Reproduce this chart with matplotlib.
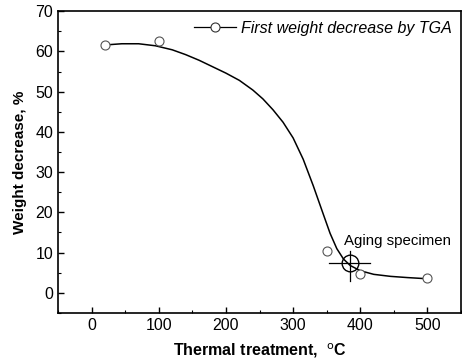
import matplotlib
matplotlib.use('Agg')
import matplotlib.pyplot as plt

# measured points (open circles)
temp = [20, 100, 350, 400, 500]
wdec = [61.5, 62.5, 10.5, 4.8, 3.6]

# fitted curve
fitT = [20, 45, 70, 95, 120, 140, 160, 180, 200, 220, 240, 255, 270, 285, 300, 315, 330, 345, 355,
        365, 375, 385, 400, 420, 445, 470, 500]
fitW = [61.6, 61.9, 61.9, 61.4, 60.4, 59.2, 57.8, 56.2, 54.6, 52.8, 50.4, 48.2, 45.5, 42.4, 38.5, 33.2,
        26.6, 19.5, 14.8, 11.0, 8.4, 6.8, 5.5, 4.6, 4.1, 3.8, 3.5]

# aging specimen marker
agingT = 384
agingW = 7.5

plt.rcParams['font.family'] = ['Liberation Sans', 'DejaVu Sans']

fig = plt.figure(figsize=(4.62, 3.6), dpi=100)
ax = fig.add_axes([0.1255, 0.1306, 0.8725, 0.8384])

ax.plot(fitT, fitW, color='black', lw=1.1, zorder=2)
ax.plot(temp, wdec, 'o', mfc='white', mec='#555555', ms=6.5, mew=0.8, zorder=3)
# legend entry (line + marker)
leg_line, = ax.plot([], [], '-o', color='black', lw=0.9, mfc='white', mec='#333333', ms=6.5, mew=0.8)
ax.legend([leg_line], ['First weight decrease by TGA'], loc='upper right', frameon=False,
          prop={'style': 'italic', 'size': 11.5}, handlelength=2.6, handletextpad=0.3,
          borderaxespad=0.2, bbox_to_anchor=(1.0, 1.0))

# aging specimen: circle with crosshair
ax.plot(agingT, agingW, 'o', mfc='none', mec='black', ms=12, mew=1.0, zorder=4)
ax.plot([354, 414], [agingW, agingW], color='black', lw=0.9, zorder=4)
ax.plot([agingT, agingT], [3.0, 10.4], color='black', lw=0.9, zorder=4)
ax.text(376, 12.8, 'Aging specimen', fontsize=10.8, va='center', ha='left')

ax.set_xlim(-50, 550)
ax.set_ylim(-5, 70)
ax.set_xticks([0, 100, 200, 300, 400, 500])
ax.set_xticks(range(-50, 551, 50), minor=True)
ax.set_yticks(range(0, 71, 10))
ax.set_yticks(range(-5, 71, 5), minor=True)
ax.tick_params(direction='in', which='major', length=4, width=1, labelsize=11.5)
ax.tick_params(direction='in', which='minor', length=2, width=0.8)
for s in ax.spines.values():
    s.set_linewidth(1.2)

ax.set_xlabel(r'Thermal treatment,  $^{\mathrm{o}}$C', fontsize=11.5, fontweight='bold', labelpad=6)
ax.set_ylabel('Weight decrease, %', fontsize=11, fontweight='bold', labelpad=6)

fig.savefig('out.png', dpi=100)
